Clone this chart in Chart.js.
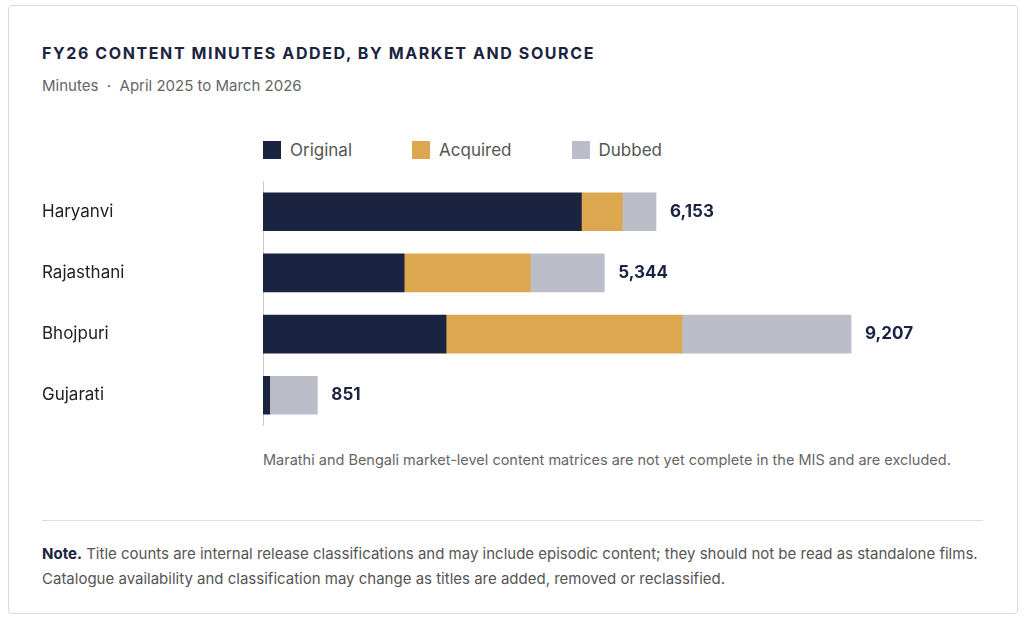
<!DOCTYPE html>
<html><head><meta charset="utf-8">
<script src="https://cdn.jsdelivr.net/npm/chart.js@4"></script>
<style>
body{margin:0;width:1024px;height:620px;background:#fff;font-family:Inter,"Noto Sans",sans-serif;position:relative;overflow:hidden}
.card{position:absolute;left:8px;top:5px;width:1008px;height:607px;border:1px solid #d9d9d9;border-radius:4px}
.t{position:absolute;left:42px;top:43px;font-size:16px;font-weight:700;letter-spacing:1.6px;color:#1a2340}
.s{position:absolute;left:42px;top:76px;font-size:15px;color:#666}
.lg{position:absolute;left:263px;top:140px;font-size:17px;color:#555;display:flex}
.lg span{display:flex;align-items:center;margin-right:60px}
.lg i{display:inline-block;width:18px;height:18px;margin-right:9px}
.fn{position:absolute;left:263px;top:451px;font-size:14.5px;color:#666}
.hr{position:absolute;left:42px;top:520px;width:941px;border-top:1px solid #e2ddd0}
.n{position:absolute;left:42px;top:541px;width:950px;font-size:15px;color:#555;line-height:25px}
.n b{color:#1a2340}
#w{position:absolute;left:42px;top:171px;width:960px;height:265px}
</style></head><body>
<div class="card"></div>
<div class="t">FY26 CONTENT MINUTES ADDED, BY MARKET AND SOURCE</div>
<div class="s">Minutes &nbsp;·&nbsp; April 2025 to March 2026</div>
<div class="lg"><span><i style="background:#1a2340"></i>Original</span><span><i style="background:#dda74f"></i>Acquired</span><span><i style="background:#bbbdc9"></i>Dubbed</span></div>
<div id="w"><canvas id="c"></canvas></div>
<div class="fn">Marathi and Bengali market-level content matrices are not yet complete in the MIS and are excluded.</div>
<div class="hr"></div>
<div class="n"><b>Note.</b> Title counts are internal release classifications and may include episodic content; they should not be read as standalone films. Catalogue availability and classification may change as titles are added, removed or reclassified.</div>
<script>
const markets=["Haryanvi","Rajasthani","Bhojpuri","Gujarati"];
const original=[4985,2210,2866,105];
const acquired=[640,1975,3695,0];
const dubbed=[528,1159,2646,746];
const totals=[6153,5344,9207,851];
const totalLabels=["6,153","5,344","9,207","851"];
const lbl={id:"lbl",afterDatasetsDraw(ch){const c=ch.ctx,x=ch.scales.x,y=ch.scales.y;c.save();c.font="700 17px Inter, sans-serif";c.fillStyle="#1a2340";c.textBaseline="middle";totals.forEach((t,i)=>c.fillText(totalLabels[i],x.getPixelForValue(t)+14,y.getPixelForValue(i)));c.restore();}};
new Chart(document.getElementById("c"),{type:"bar",data:{labels:markets,datasets:[
{label:"Original",data:original,backgroundColor:"#1a2340"},
{label:"Acquired",data:acquired,backgroundColor:"#dda74f"},
{label:"Dubbed",data:dubbed,backgroundColor:"#bbbdc9"}].map(d=>({...d,barThickness:38}))},
options:{indexAxis:"y",responsive:true,maintainAspectRatio:false,animation:false,layout:{padding:0},
plugins:{legend:{display:false},tooltip:{enabled:false}},
scales:{x:{stacked:true,min:0,max:11570,display:false},
y:{stacked:true,grid:{display:false},border:{display:true,color:"#ccc"},afterFit(s){s.width=221},
ticks:{crossAlign:"far",padding:0,color:"#222",font:{size:17,family:"Inter, sans-serif"}}}}},plugins:[lbl]});
</script></body></html>
